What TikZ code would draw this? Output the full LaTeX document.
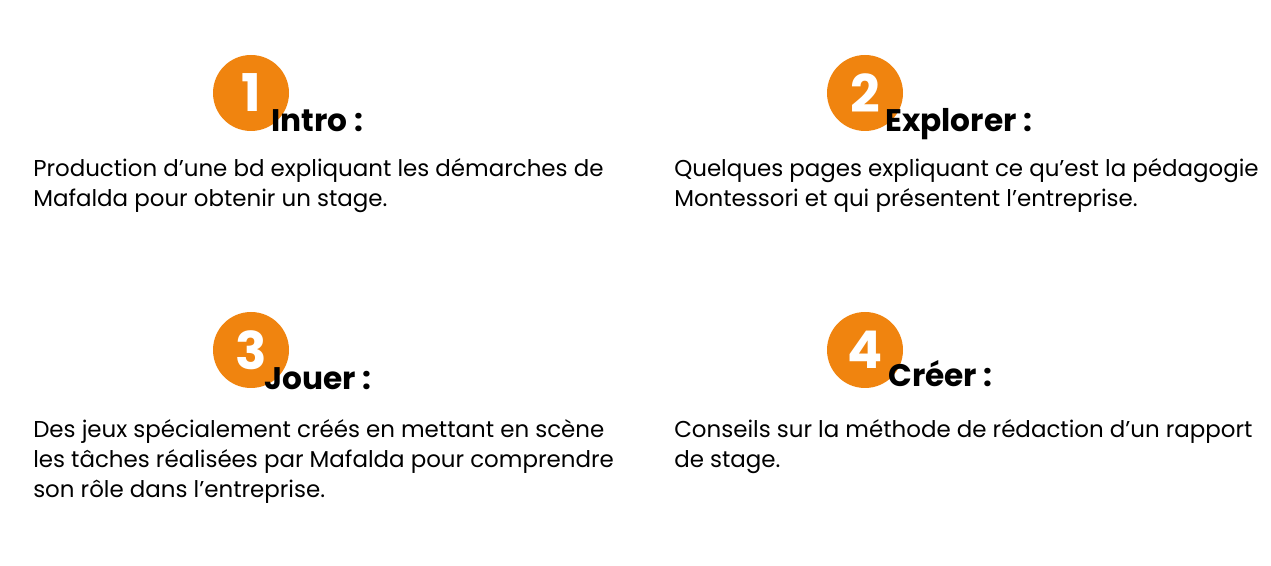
\documentclass[tikz,border=0pt]{standalone}
\usepackage{fontspec}
\setmainfont{Poppins}
\usetikzlibrary{positioning}
\definecolor{stepbg}{HTML}{F0840F}

\begin{document}
\begin{tikzpicture}[x=0.75pt,y=-0.75pt,
    numdot/.style={circle,fill=stepbg,text=white,minimum size=57pt,inner sep=0pt,
      font=\fontsize{39}{39}\bfseries\selectfont},
    steptitle/.style={anchor=base west,inner sep=0pt,font=\fontsize{23.4}{26}\bfseries\selectfont},
    stepbody/.style={anchor=base west,inner sep=0pt,align=left,
      font=\fontsize{17.2}{22.5}\selectfont}]
      \useasboundingbox (0,0) rectangle (1271,566);
      %% numbers
      \node [numdot] (n1) at (251, 93) {1};
      \node [numdot] (n2) at (865, 93) {2};
      \node [numdot] (n3) at (251, 350) {3};
      \node [numdot] (n4) at (865, 350) {4};
      %% titles
      \node [steptitle] (t1) at (271, 132) {Intro :};
      \node [steptitle] (t2) at (885, 132) {Explorer :};
      \node [steptitle] (t3) at (264, 390) {Jouer :};
      \node [steptitle] (t4) at (888, 387) {Créer :};
      %% texts (anchored on the last line)
      \node [stepbody] (b1) at (33, 207) {Production d’une bd expliquant les démarches de\\Mafalda pour obtenir un stage.};
      \node [stepbody] (b2) at (674, 207) {Quelques pages expliquant ce qu’est la pédagogie\\Montessori et qui présentent l’entreprise.};
      \node [stepbody] (b3) at (33, 498) {Des jeux spécialement créés en mettant en scène\\les tâches réalisées par Mafalda pour comprendre\\son rôle dans l’entreprise.};
      \node [stepbody] (b4) at (674, 468) {Conseils sur la méthode de rédaction d’un rapport\\de stage.};
    \end{tikzpicture}
\end{document}
